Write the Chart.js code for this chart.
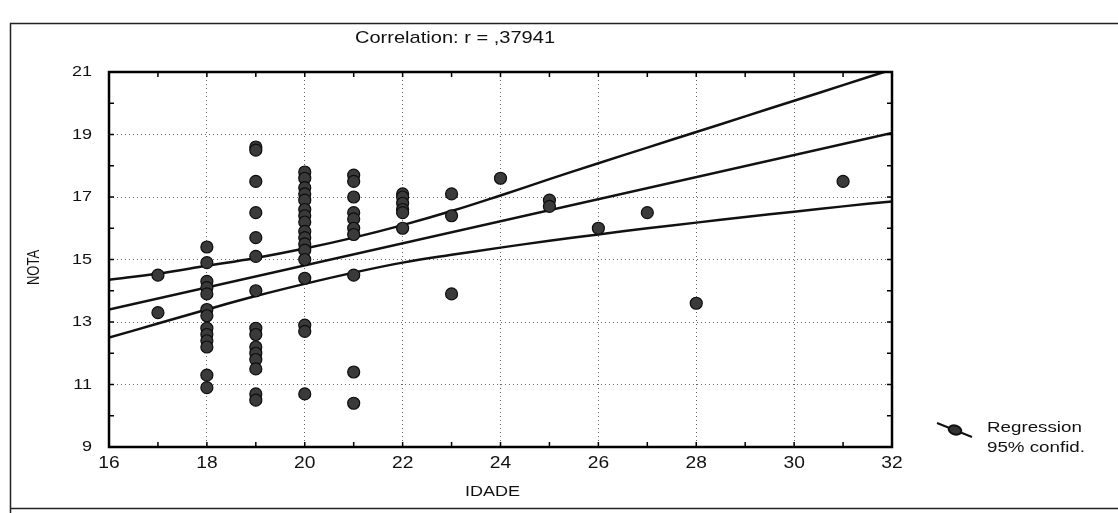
<!DOCTYPE html>
<html>
<head>
<meta charset="utf-8">
<script src="https://cdn.jsdelivr.net/npm/chart.js@4.4.1/dist/chart.umd.min.js"></script>
<style>
  html, body { margin: 0; padding: 0; background: #fff; }
  #wrap { width: 1118px; height: 513px; position: relative; }
</style>
</head>
<body>
<div id="wrap"><canvas id="grafico" width="1118" height="513"></canvas></div>
<script>
// Datos (IDADE x NOTA)
const idade = [
  17, 17,
  18, 18, 18, 18, 18, 18, 18, 18, 18, 18, 18, 18, 18,
  19, 19, 19, 19, 19, 19, 19, 19, 19, 19, 19, 19, 19, 19, 19,
  20, 20, 20, 20, 20, 20, 20, 20, 20, 20, 20, 20, 20, 20, 20, 20, 20,
  21, 21, 21, 21, 21, 21, 21, 21, 21, 21,
  22, 22, 22, 22, 22, 22,
  23, 23, 23,
  24, 25, 25, 26, 27, 28, 31
];
const nota = [
  14.5, 13.3,
  15.4, 14.9, 14.3, 14.1, 13.9, 13.4, 13.2, 12.8, 12.6, 12.4, 12.2, 11.3, 10.9,
  18.6, 18.5, 17.5, 16.5, 15.7, 15.1, 14.0, 12.8, 12.6, 12.2, 12.0, 11.8, 11.5, 10.7, 10.5,
  17.8, 17.6, 17.3, 17.1, 16.9, 16.6, 16.4, 16.2, 15.9, 15.7, 15.5, 15.3, 15.0, 14.4, 12.9, 12.7, 10.7,
  17.7, 17.5, 17.0, 16.5, 16.3, 16.0, 15.8, 14.5, 11.4, 10.4,
  17.1, 17.0, 16.8, 16.6, 16.5, 16.0,
  17.1, 16.4, 13.9,
  17.6, 16.9, 16.7, 16.0, 16.5, 13.6, 17.5
];

// Recta de regresión y bandas de confianza 95%
const regX = [16, 32];
const regY = [13.4, 19.05];
const bandaX = [16, 17, 18, 19, 20, 21, 22, 23, 24, 25, 26, 27, 28, 29, 30, 31, 32];
const bandaSup = [14.35, 14.55, 14.8, 15.05, 15.35, 15.7, 16.1, 16.55, 17.05, 17.57, 18.08, 18.58, 19.08, 19.58, 20.08, 20.58, 21.08];
const bandaInf = [12.5, 12.95, 13.4, 13.83, 14.22, 14.58, 14.9, 15.15, 15.38, 15.6, 15.8, 16.0, 16.18, 16.36, 16.53, 16.7, 16.86];

const xTicks = [16, 18, 20, 22, 24, 26, 28, 30, 32];
const yTicks = [9, 11, 13, 15, 17, 19, 21];

const tituloTexto = 'Correlation: r = ,37941';
const tituloX = 'IDADE';
const tituloY = 'NOTA';
const leyendaTexto = ['Regression', '95% confid.'];

const fuente = '"Liberation Sans", Arial, sans-serif';
const tinta = '#111';

function pares(xs, ys) {
  return xs.map((x, i) => ({ x: x, y: ys[i] }));
}

// Texto algo ensanchado, como en el escaneo original
function texto(ctx, str, x, y, size, align, estira, giro) {
  ctx.save();
  ctx.translate(x, y);
  if (giro) ctx.rotate(giro);
  ctx.scale(giro ? 1 : estira, giro ? estira : 1);
  ctx.font = size + 'px ' + fuente;
  ctx.fillStyle = tinta;
  ctx.textAlign = align;
  ctx.textBaseline = 'middle';
  ctx.fillText(str, 0, 0);
  ctx.restore();
}

// Marco, marcas interiores, etiquetas, título y leyenda dibujados a mano
const decoracion = {
  id: 'decoracion',
  afterDraw(chart) {
    const { ctx, chartArea: a, scales } = chart;
    ctx.save();

    // marco exterior
    ctx.strokeStyle = '#222';
    ctx.lineWidth = 1.5;
    ctx.beginPath();
    ctx.moveTo(1118, 23.5);
    ctx.lineTo(10.5, 23.5);
    ctx.lineTo(10.5, 513);
    ctx.moveTo(10.5, 508.5);
    ctx.lineTo(1118, 508.5);
    ctx.stroke();

    // caja del área de datos
    ctx.strokeStyle = '#000';
    ctx.lineWidth = 2.5;
    ctx.strokeRect(a.left, a.top, a.right - a.left, a.bottom - a.top);

    // marcas interiores en cada unidad
    ctx.lineWidth = 1.5;
    ctx.beginPath();
    for (let v = 17; v < 32; v++) {
      const px = scales.x.getPixelForValue(v);
      ctx.moveTo(px, a.top); ctx.lineTo(px, a.top + 5);
      ctx.moveTo(px, a.bottom); ctx.lineTo(px, a.bottom - 5);
    }
    for (let v = 10; v < 21; v++) {
      const py = scales.y.getPixelForValue(v);
      ctx.moveTo(a.left, py); ctx.lineTo(a.left + 5, py);
      ctx.moveTo(a.right, py); ctx.lineTo(a.right - 5, py);
    }
    ctx.stroke();
    ctx.restore();

    // etiquetas de los ejes
    xTicks.forEach(v => texto(ctx, String(v), scales.x.getPixelForValue(v), a.bottom + 17, 16, 'center', 1.2));
    yTicks.forEach(v => texto(ctx, String(v), a.left - 17, scales.y.getPixelForValue(v), 15, 'right', 1.2));
    texto(ctx, tituloX, (a.left + a.right) / 2 - 8, 492, 15, 'center', 1.2);
    texto(ctx, tituloY, 34, (a.top + a.bottom) / 2 + 8, 13, 'center', 1.3, -Math.PI / 2);

    // título
    texto(ctx, tituloTexto, 455, 38, 17, 'center', 1.18);

    // leyenda
    ctx.save();
    ctx.strokeStyle = tinta;
    ctx.lineWidth = 2;
    ctx.beginPath();
    ctx.moveTo(937, 423);
    ctx.lineTo(972, 437);
    ctx.stroke();
    ctx.fillStyle = '#333';
    ctx.beginPath();
    ctx.ellipse(955, 430, 6.5, 4.5, 0.3, 0, Math.PI * 2);
    ctx.fill();
    ctx.stroke();
    ctx.restore();
    texto(ctx, leyendaTexto[0], 987, 428, 15, 'left', 1.25);
    texto(ctx, leyendaTexto[1], 987, 448, 15, 'left', 1.25);
  }
};

const lineaBase = {
  type: 'line',
  showLine: true,
  borderColor: tinta,
  borderWidth: 2.5,
  pointRadius: 0,
  fill: false,
  order: 2
};

const ctx = document.getElementById('grafico').getContext('2d');
new Chart(ctx, {
  type: 'scatter',
  data: {
    datasets: [
      {
        label: 'NOTA',
        data: pares(idade, nota),
        pointRadius: 6,
        pointHoverRadius: 6,
        backgroundColor: '#3a3a3a',
        borderColor: '#0d0d0d',
        borderWidth: 1.2,
        order: 1
      },
      Object.assign({}, lineaBase, { label: 'Regression', data: pares(regX, regY) }),
      Object.assign({}, lineaBase, { label: '95% sup', data: pares(bandaX, bandaSup), tension: 0.4 }),
      Object.assign({}, lineaBase, { label: '95% inf', data: pares(bandaX, bandaInf), tension: 0.4 })
    ]
  },
  options: {
    responsive: false,
    animation: false,
    layout: { padding: { top: 72, right: 226, bottom: 0, left: 0 } },
    plugins: {
      legend: { display: false },
      tooltip: { enabled: false }
    },
    scales: {
      x: {
        type: 'linear',
        min: 16,
        max: 32,
        afterBuildTicks: (s) => { s.ticks = xTicks.map(v => ({ value: v })); },
        afterFit: (s) => { s.height = 66; },
        ticks: { display: false },
        grid: { color: '#666', lineWidth: 1, drawTicks: false },
        border: { display: false, dash: [1, 3] }
      },
      y: {
        min: 9,
        max: 21,
        afterBuildTicks: (s) => { s.ticks = yTicks.map(v => ({ value: v })); },
        afterFit: (s) => { s.width = 109; },
        ticks: { display: false },
        grid: { color: '#666', lineWidth: 1, drawTicks: false },
        border: { display: false, dash: [1, 3] }
      }
    }
  },
  plugins: [decoracion]
});
</script>
</body>
</html>
